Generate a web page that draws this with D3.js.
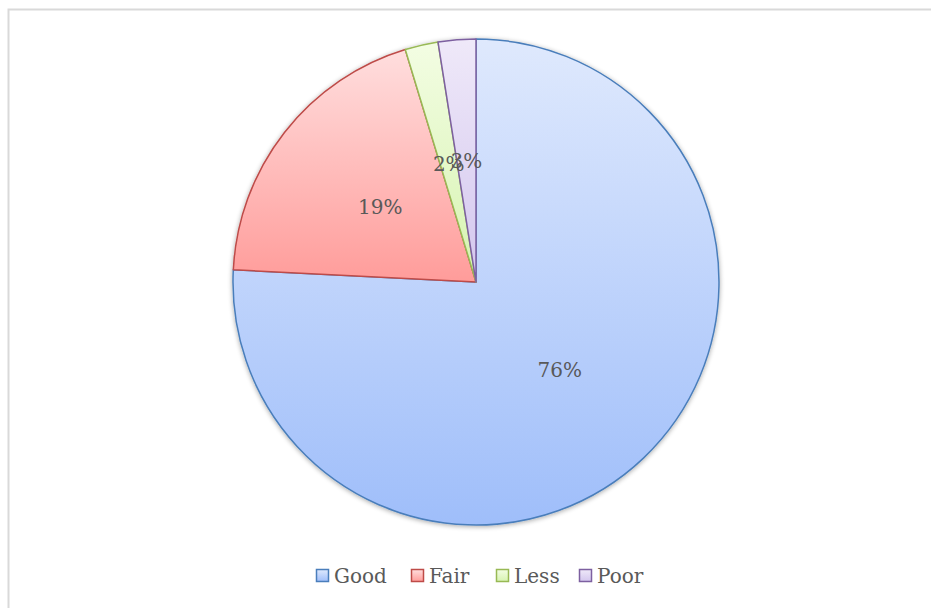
<!DOCTYPE html>
<html>
<head>
<meta charset="utf-8">
<script src="https://cdn.jsdelivr.net/npm/d3@7"></script>
<style>
  body { margin: 0; background: #fff; }
  text { font-family: "DejaVu Serif", "Liberation Serif", serif; fill: #595959; }
</style>
</head>
<body>
<div id="chart"></div>
<script>
// data
const categories = ["Good", "Fair", "Less", "Poor"];
const shares = [75.8, 19.5, 2.2, 2.5];
const labels = ["76%", "19%", "2%", "3%"];

// styling per slice: top colour, bottom colour, outline
const topColors = ["#dfe9fd", "#ffdede", "#f3fde3", "#efe9f9"];
const bottomColors = ["#9fbefa", "#ff9c9a", "#d6f3b0", "#d3c6ee"];
const strokeColors = ["#4a7ebb", "#be4b48", "#98b954", "#7d60a0"];

const width = 931, height = 608;
const cx = 476, cy = 282, radius = 243;

const svg = d3.select("#chart").append("svg")
    .attr("width", width).attr("height", height);

// outer frame (runs off the right and bottom like the screenshot)
svg.append("rect")
    .attr("x", 8.5).attr("y", 9.5)
    .attr("width", 940).attr("height", 620)
    .attr("fill", "none").attr("stroke", "#d9d9d9").attr("stroke-width", 2);

const defs = svg.append("defs");
categories.forEach((c, i) => {
    const grad = defs.append("linearGradient")
        .attr("id", "grad-" + i)
        .attr("x1", 0).attr("y1", 0).attr("x2", 0).attr("y2", 1);
    grad.append("stop").attr("offset", "0%").attr("stop-color", topColors[i]);
    grad.append("stop").attr("offset", "100%").attr("stop-color", bottomColors[i]);
});

// soft shadow
const filt = defs.append("filter").attr("id", "shadow")
    .attr("x", "-10%").attr("y", "-10%").attr("width", "120%").attr("height", "120%");
filt.append("feGaussianBlur").attr("in", "SourceAlpha").attr("stdDeviation", 2.5).attr("result", "b");
filt.append("feOffset").attr("in", "b").attr("dx", 0).attr("dy", 1).attr("result", "o");
filt.append("feComponentTransfer").attr("in", "o").attr("result", "s")
    .append("feFuncA").attr("type", "linear").attr("slope", 0.35);
const merge = filt.append("feMerge");
merge.append("feMergeNode").attr("in", "s");
merge.append("feMergeNode").attr("in", "SourceGraphic");

const pie = d3.pie().sort(null).value(d => d.value);
const arcs = pie(categories.map((c, i) => ({ name: c, value: shares[i], i: i })));

const arc = d3.arc().innerRadius(0).outerRadius(radius);
const labelArc = d3.arc().innerRadius(radius * 0.5).outerRadius(radius * 0.5);

const g = svg.append("g").attr("transform", `translate(${cx},${cy})`);

g.append("g").attr("filter", "url(#shadow)")
    .selectAll("path")
    .data(arcs).enter().append("path")
    .attr("d", arc)
    .attr("fill", d => `url(#grad-${d.data.i})`)
    .attr("stroke", d => strokeColors[d.data.i])
    .attr("stroke-width", 1.5)
    .attr("stroke-linejoin", "round");

// labels sit at half the radius, as in the original (the two small ones collide there too)
g.selectAll(".slice-label")
    .data(arcs).enter().append("text")
    .attr("class", "slice-label")
    .attr("transform", d => `translate(${labelArc.centroid(d)})`)
    .attr("text-anchor", "middle")
    .attr("dominant-baseline", "central")
    .attr("font-size", 20)
    .text(d => labels[d.data.i]);

// legend
const legendX = [316, 411, 496, 579];
const legend = svg.append("g").attr("transform", "translate(0,576)");
const items = legend.selectAll("g").data(categories).enter().append("g")
    .attr("transform", (d, i) => `translate(${legendX[i]},0)`);
items.append("rect")
    .attr("x", 0.5).attr("y", -6.5).attr("width", 12).attr("height", 12)
    .attr("fill", (d, i) => `url(#grad-${i})`)
    .attr("stroke", (d, i) => strokeColors[i]).attr("stroke-width", 1.5);
items.append("text")
    .attr("x", 18).attr("y", 0)
    .attr("dominant-baseline", "central")
    .attr("font-size", 20)
    .text(d => d);
</script>
</body>
</html>
